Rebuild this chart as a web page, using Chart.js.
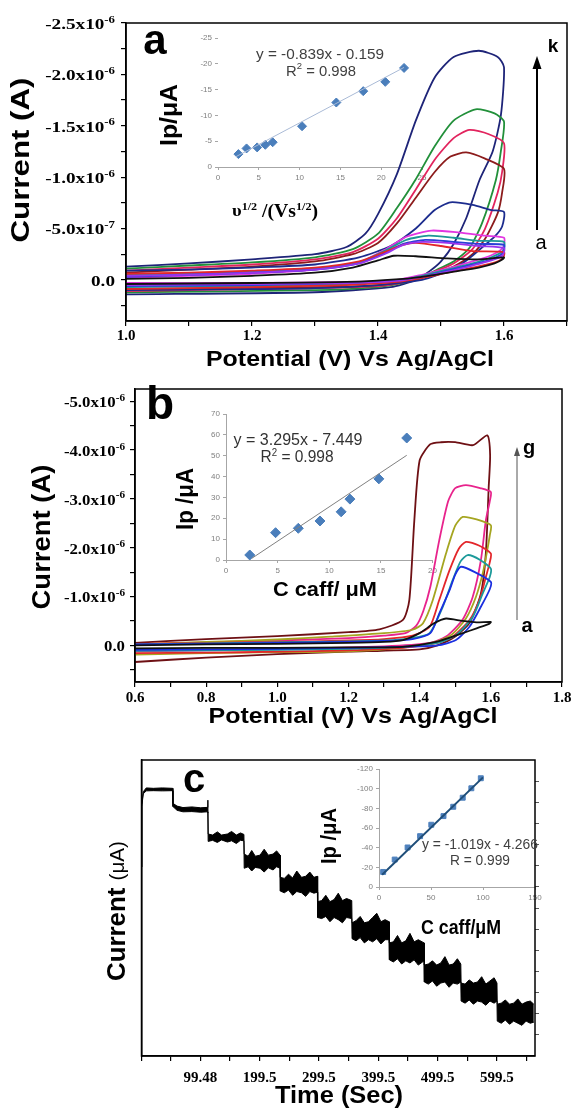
<!DOCTYPE html>
<html>
<head>
<meta charset="utf-8">
<script src="https://cdn.jsdelivr.net/npm/chart.js@4.4.1/dist/chart.umd.min.js"></script>
<style>
  body { margin: 0; background: #fff; width: 573px; height: 1110px; position: relative; overflow: hidden; }
  .box { position: absolute; }
  canvas { display: block; }
</style>
</head>
<body>
<div class="box" style="left:150px;top:20px"><canvas id="insetA" width="290" height="200"></canvas></div>
<div class="box" style="left:0;top:0"><canvas id="mainA" width="573" height="370"></canvas></div>
<div class="box" style="left:170px;top:395px"><canvas id="insetB" width="270" height="200"></canvas></div>
<div class="box" style="left:0;top:370px"><canvas id="mainB" width="573" height="360"></canvas></div>
<div class="box" style="left:330px;top:750px"><canvas id="insetC" width="230" height="170"></canvas></div>
<div class="box" style="left:0;top:730px"><canvas id="mainC" width="573" height="380"></canvas></div>
<script>
// ---------- panel a : CVs at different scan rates (V, current in µA) ----------
const aCurveA = [[1.0,-0.01],[1.1,-0.02],[1.2,-0.04],[1.3,-0.07],[1.36,-0.12],[1.40,-0.19],[1.425,-0.235],[1.46,-0.23],[1.51,-0.21],[1.56,-0.2],[1.60,-0.22],
  [1.598,-0.2],[1.585,-0.16],[1.56,-0.12],[1.52,-0.08],[1.48,-0.04],[1.44,-0.01],[1.35,0.02],[1.2,0.03],[1.0,0.04]];
const aCurveB = [[1.0,-0.04],[1.1,-0.05],[1.2,-0.07],[1.3,-0.1],[1.37,-0.16],[1.41,-0.25],[1.44,-0.34],[1.47,-0.37],[1.51,-0.36],[1.56,-0.33],[1.60,-0.31],
  [1.598,-0.24],[1.58,-0.19],[1.55,-0.14],[1.51,-0.08],[1.47,-0.03],[1.43,0.01],[1.35,0.03],[1.2,0.04],[1.0,0.05]];
const aCurveC = [[1.0,-0.06],[1.1,-0.07],[1.2,-0.09],[1.3,-0.12],[1.37,-0.18],[1.41,-0.27],[1.44,-0.34],[1.46,-0.36],[1.50,-0.33],[1.55,-0.28],[1.60,-0.27],
  [1.598,-0.21],[1.58,-0.16],[1.55,-0.12],[1.51,-0.07],[1.47,-0.02],[1.43,0.02],[1.35,0.05],[1.2,0.07],[1.0,0.09]];
const aCurveD = [[1.0,-0.03],[1.1,-0.05],[1.2,-0.07],[1.3,-0.1],[1.37,-0.16],[1.41,-0.26],[1.44,-0.35],[1.475,-0.39],[1.52,-0.37],[1.56,-0.35],[1.60,-0.34],
  [1.598,-0.26],[1.58,-0.2],[1.55,-0.15],[1.51,-0.09],[1.47,-0.03],[1.43,0.01],[1.35,0.03],[1.2,0.05],[1.0,0.06]];
const aCurveE = [[1.0,-0.05],[1.1,-0.06],[1.2,-0.08],[1.3,-0.11],[1.37,-0.17],[1.41,-0.28],[1.445,-0.39],[1.48,-0.43],[1.52,-0.41],[1.56,-0.38],[1.60,-0.37],
  [1.598,-0.28],[1.58,-0.22],[1.55,-0.16],[1.51,-0.1],[1.47,-0.04],[1.43,0.01],[1.35,0.04],[1.2,0.06],[1.0,0.07]];
const aCurveF = [[1.0,-0.02],[1.1,-0.04],[1.2,-0.06],[1.3,-0.1],[1.37,-0.17],[1.41,-0.29],[1.445,-0.42],[1.485,-0.48],[1.53,-0.46],[1.57,-0.43],[1.60,-0.41],
  [1.598,-0.31],[1.58,-0.24],[1.55,-0.18],[1.51,-0.11],[1.47,-0.05],[1.43,0.0],[1.35,0.02],[1.2,0.03],[1.0,0.03]];
const aCurveG = [[1.0,-0.09],[1.1,-0.1],[1.2,-0.12],[1.3,-0.15],[1.37,-0.22],[1.42,-0.33],[1.46,-0.5],[1.49,-0.68],[1.515,-0.755],[1.55,-0.73],[1.58,-0.68],[1.60,-0.66],
  [1.597,-0.52],[1.585,-0.42],[1.566,-0.32],[1.545,-0.21],[1.524,-0.12],[1.50,-0.06],[1.47,0.0],[1.4,0.05],[1.3,0.08],[1.2,0.09],[1.0,0.1]];
const aCurveH = [[1.0,-0.07],[1.1,-0.1],[1.2,-0.13],[1.3,-0.18],[1.36,-0.25],[1.40,-0.36],[1.43,-0.55],[1.46,-0.8],[1.49,-1.05],[1.515,-1.2],[1.54,-1.24],[1.57,-1.18],[1.60,-1.08],
  [1.597,-0.85],[1.59,-0.65],[1.57,-0.4],[1.55,-0.25],[1.52,-0.13],[1.49,-0.06],[1.46,0.0],[1.4,0.05],[1.3,0.07],[1.0,0.09]];
const aCurveI = [[1.0,-0.09],[1.1,-0.12],[1.2,-0.15],[1.3,-0.2],[1.36,-0.27],[1.40,-0.4],[1.43,-0.6],[1.46,-0.88],[1.49,-1.17],[1.52,-1.38],[1.545,-1.46],[1.575,-1.42],[1.60,-1.33],
  [1.597,-1.05],[1.59,-0.85],[1.57,-0.5],[1.55,-0.3],[1.52,-0.16],[1.49,-0.08],[1.46,0.0],[1.4,0.06],[1.3,0.08],[1.0,0.11]];
const aCurveJ = [[1.0,-0.11],[1.1,-0.14],[1.2,-0.17],[1.3,-0.22],[1.36,-0.3],[1.40,-0.45],[1.43,-0.7],[1.46,-0.98],[1.49,-1.3],[1.52,-1.55],[1.555,-1.66],[1.585,-1.62],[1.60,-1.54],
  [1.595,-1.25],[1.587,-0.97],[1.565,-0.55],[1.545,-0.31],[1.52,-0.18],[1.497,-0.11],[1.47,-0.03],[1.44,0.03],[1.4,0.07],[1.3,0.1],[1.0,0.12]];
const aCurveK = [[1.0,-0.13],[1.1,-0.16],[1.2,-0.2],[1.3,-0.25],[1.35,-0.32],[1.38,-0.45],[1.40,-0.64],[1.43,-1.03],[1.46,-1.55],[1.49,-1.97],[1.52,-2.17],[1.56,-2.23],[1.59,-2.17],[1.60,-2.07],
  [1.595,-1.6],[1.582,-1.25],[1.561,-0.97],[1.54,-0.6],[1.52,-0.35],[1.50,-0.18],[1.483,-0.09],[1.46,0.0],[1.42,0.07],[1.3,0.12],[1.0,0.14]];
const aCurves = [aCurveA, aCurveB, aCurveC, aCurveD, aCurveE, aCurveF, aCurveG, aCurveH, aCurveI, aCurveJ, aCurveK];
const aColors = ['#111111', '#9933ee', '#e3262a', '#2a3fd6', '#1d9696', '#e236e2', '#1c2c8e', '#8c1c1c', '#e2245e', '#22903a', '#1e2478'];

const aXTicks = [1.0, 1.1, 1.2, 1.3, 1.4, 1.5, 1.6, 1.7];
const aXLabelVals = [1.0, 1.2, 1.4, 1.6];
const aXLabels = ['1.0', '1.2', '1.4', '1.6'];
const aYTicks = [-2.5, -2.25, -2.0, -1.75, -1.5, -1.25, -1.0, -0.75, -0.5, -0.25, 0, 0.25];
const aYLabelVals = [-2.5, -2.0, -1.5, -1.0, -0.5, 0];
const aYLabels = ['-2.5x10^-6', '-2.0x10^-6', '-1.5x10^-6', '-1.0x10^-6', '-5.0x10^-7', '0.0'];

// inset a : Ip vs v^1/2
const insetAX = [2.5, 3.5, 4.8, 5.8, 6.7, 10.3, 14.5, 17.8, 20.5, 22.8];
const insetAY = [-2.5, -3.6, -3.8, -4.3, -4.8, -7.9, -12.5, -14.7, -16.5, -19.2];
const insetATrendX = [2.2, 22.8];
const insetATrendY = [-2.0, -19.3];

// ---------- panel b : CVs at different caffeine concentrations ----------
const bCurveA = [[0.6,0.0],[0.8,-0.02],[1.0,-0.03],[1.2,-0.05],[1.3,-0.07],[1.353,-0.11],[1.40,-0.25],[1.44,-0.45],[1.474,-0.55],[1.52,-0.5],[1.56,-0.47],[1.60,-0.48],
  [1.595,-0.44],[1.56,-0.35],[1.521,-0.25],[1.446,-0.07],[1.353,0.03],[1.2,0.04],[1.0,0.05],[0.8,0.05],[0.6,0.06]];
const bCurveB = [[0.6,-0.02],[0.8,-0.03],[1.0,-0.05],[1.2,-0.07],[1.3,-0.09],[1.38,-0.13],[1.43,-0.25],[1.455,-0.65],[1.484,-1.13],[1.50,-1.45],[1.516,-1.61],[1.555,-1.5],[1.60,-1.30],
  [1.597,-1.15],[1.572,-0.79],[1.54,-0.38],[1.502,-0.11],[1.45,0.0],[1.35,0.03],[1.2,0.05],[1.0,0.07],[0.8,0.08],[0.6,0.09]];
const bCurveC = [[0.6,-0.02],[0.8,-0.04],[1.0,-0.06],[1.2,-0.08],[1.3,-0.1],[1.38,-0.15],[1.428,-0.25],[1.465,-0.79],[1.493,-1.34],[1.515,-1.72],[1.535,-1.85],[1.57,-1.75],[1.60,-1.57],
  [1.597,-1.4],[1.577,-1.06],[1.549,-0.58],[1.502,-0.21],[1.45,-0.05],[1.35,0.03],[1.2,0.07],[1.0,0.09],[0.8,0.1],[0.6,0.11]];
const bCurveD = [[0.6,-0.03],[0.8,-0.05],[1.0,-0.07],[1.2,-0.1],[1.3,-0.13],[1.38,-0.2],[1.428,-0.38],[1.455,-0.93],[1.484,-1.54],[1.51,-1.98],[1.53,-2.12],[1.565,-2.05],[1.60,-1.88],
  [1.597,-1.7],[1.586,-1.4],[1.568,-0.93],[1.54,-0.52],[1.493,-0.18],[1.45,-0.05],[1.35,0.05],[1.2,0.1],[1.0,0.13],[0.8,0.15],[0.6,0.16]];
const bCurveE = [[0.6,-0.02],[0.8,-0.07],[1.0,-0.12],[1.15,-0.18],[1.3,-0.25],[1.38,-0.32],[1.409,-0.45],[1.437,-0.93],[1.474,-1.88],[1.50,-2.45],[1.521,-2.63],[1.56,-2.58],[1.60,-2.46],
  [1.597,-2.25],[1.59,-1.95],[1.578,-1.5],[1.558,-0.99],[1.53,-0.55],[1.49,-0.22],[1.44,-0.06],[1.35,0.05],[1.2,0.12],[1.0,0.14],[0.8,0.16],[0.6,0.19]];
const bCurveF = [[0.6,-0.02],[0.8,-0.06],[1.0,-0.1],[1.2,-0.15],[1.3,-0.2],[1.36,-0.25],[1.39,-0.4],[1.41,-0.7],[1.43,-1.2],[1.455,-2.15],[1.48,-2.95],[1.50,-3.22],[1.53,-3.28],[1.57,-3.22],[1.60,-3.14],
  [1.597,-2.95],[1.586,-2.56],[1.572,-1.74],[1.549,-0.99],[1.52,-0.52],[1.474,-0.18],[1.428,-0.05],[1.3,0.02],[1.0,0.08],[0.8,0.1],[0.6,0.12]];
const bCurveG = [[0.6,-0.05],[0.8,-0.13],[1.0,-0.19],[1.2,-0.27],[1.287,-0.33],[1.353,-0.52],[1.371,-0.93],[1.385,-2.56],[1.40,-3.79],[1.43,-4.12],[1.46,-4.16],[1.50,-4.16],[1.55,-4.10],[1.59,-4.30],
  [1.598,-3.9],[1.594,-3.24],[1.586,-1.89],[1.572,-1.06],[1.54,-0.46],[1.50,-0.18],[1.45,0.0],[1.4,0.08],[1.2,0.13],[1.0,0.18],[0.8,0.25],[0.6,0.34]];
const bCurves = [bCurveA, bCurveB, bCurveC, bCurveD, bCurveE, bCurveF, bCurveG];
const bColors = ['#111111', '#1b2fe0', '#1c9a9a', '#e3262a', '#a5a520', '#e8238c', '#6e1014'];

const bXTicks = [0.6, 0.7, 0.8, 0.9, 1.0, 1.1, 1.2, 1.3, 1.4, 1.5, 1.6, 1.7, 1.8];
const bXLabelVals = [0.6, 0.8, 1.0, 1.2, 1.4, 1.6, 1.8];
const bXLabels = ['0.6', '0.8', '1.0', '1.2', '1.4', '1.6', '1.8'];
const bYTicks = [-5.0, -4.5, -4.0, -3.5, -3.0, -2.5, -2.0, -1.5, -1.0, -0.5, 0, 0.5];
const bYLabelVals = [-5, -4, -3, -2, -1, 0];
const bYLabels = ['-5.0x10^-6', '-4.0x10^-6', '-3.0x10^-6', '-2.0x10^-6', '-1.0x10^-6', '0.0'];

// inset b : Ip vs caffeine concentration
const insetBX = [2.3, 4.8, 7.0, 9.1, 11.15, 12.0, 14.8, 17.5];
const insetBY = [2.4, 13.1, 15.2, 18.7, 23.1, 29.2, 38.9, 58.5];
const insetBTrendX = [2.5, 17.5];
const insetBTrendY = [0.8, 50.2];

// ---------- panel c : amperometric steps, noisy band read as upper / lower edge ----------
const cTime = [0, 0.5, 3, 8, 20, 35, 52.7,
  53, 60, 70, 85, 100, 111.5,
  112, 112.5, 120, 128, 135, 145, 152, 160, 167, 172.8,
  173.3, 180, 186, 192, 200, 207, 214, 222, 228, 233.8,
  234.3, 241, 248, 255, 262, 270, 277, 284, 291, 296.8,
  297.3, 304, 311, 318, 325, 332, 339, 346, 354.8,
  355.3, 362, 369, 376, 383, 390, 397, 404, 411, 417.8,
  418.3, 425, 432, 439, 446, 453, 460, 467, 476.8,
  477.3, 484, 491, 498, 505, 512, 519, 526, 533, 538.8,
  539.3, 546, 553, 560, 567, 574, 581, 588, 595, 599.8,
  600.3, 607, 614, 621, 628, 635, 642, 649, 656, 662];
const cUpper = [8.94, 11.9, 12.5, 12.68, 12.66, 12.68, 12.66,
  11.95, 11.82, 11.75, 11.78, 11.74, 11.76,
  12.1, 10.5, 10.45, 10.6, 10.45, 10.5, 10.62, 10.45, 10.55, 10.48,
  9.55, 9.45, 9.72, 9.45, 9.5, 9.78, 9.5, 9.55, 9.7, 9.5,
  8.45, 8.4, 8.6, 8.42, 8.75, 8.45, 8.5, 8.7, 8.45, 8.5,
  7.3, 7.35, 7.6, 7.3, 7.4, 7.7, 7.35, 7.45, 7.35,
  6.3, 6.4, 6.6, 6.3, 6.35, 6.55, 6.75, 6.35, 6.45, 6.35,
  5.35, 5.4, 5.7, 5.35, 5.45, 5.8, 5.4, 5.5, 5.35,
  4.3, 4.35, 4.5, 4.3, 4.4, 4.7, 4.3, 4.35, 4.6, 4.35,
  3.45, 3.4, 3.6, 3.45, 3.5, 3.75, 3.4, 3.55, 3.7, 3.45,
  2.45, 2.5, 2.65, 2.45, 2.5, 2.7, 2.45, 2.55, 2.6, 2.45];
const cLower = [8.94, 11.8, 12.4, 12.54, 12.55, 12.54, 12.55,
  11.8, 11.62, 11.55, 11.56, 11.53, 11.55,
  11.5, 10.15, 10.2, 10.1, 10.22, 10.12, 10.18, 10.05, 10.2, 10.18,
  8.88, 8.95, 8.75, 8.92, 8.88, 8.7, 8.9, 8.8, 8.95, 8.88,
  7.8, 7.72, 7.85, 7.6, 7.78, 7.72, 7.55, 7.78, 7.7, 7.75,
  6.55, 6.5, 6.6, 6.35, 6.55, 6.45, 6.3, 6.55, 6.5,
  5.55, 5.45, 5.6, 5.35, 5.5, 5.4, 5.55, 5.3, 5.5, 5.5,
  4.55, 4.45, 4.6, 4.35, 4.5, 4.4, 4.55, 4.3, 4.5,
  3.5, 3.4, 3.55, 3.3, 3.45, 3.5, 3.25, 3.45, 3.4, 3.5,
  2.6, 2.5, 2.65, 2.45, 2.6, 2.55, 2.4, 2.6, 2.5, 2.6,
  1.65, 1.55, 1.7, 1.5, 1.65, 1.55, 1.45, 1.65, 1.55, 1.6];
const cXTicks = [0, 49.5, 99.48, 149.5, 199.5, 249.5, 299.5, 349.5, 399.5, 449.5, 499.5, 549.5, 599.5, 649.5];
const cXLabelVals = [99.48, 199.5, 299.5, 399.5, 499.5, 599.5];
const cXLabels = ['99.48', '199.5', '299.5', '399.5', '499.5', '599.5'];
const cYRightTicks = [1, 2, 3, 4, 5, 6, 7, 8, 9, 10, 11, 12, 13];

// inset c : Ip vs caffeine concentration
const insetCX = [4.0, 15.1, 27.5, 39.5, 50.3, 62.0, 71.4, 80.5, 88.8, 97.9];
const insetCY = [-15.3, -27.9, -40.2, -51.7, -63.3, -72.1, -81.6, -90.8, -100.4, -110.6];
const insetCTrendX = [3, 100];
const insetCTrendY = [-12.5, -111.5];

// ---------- drawing helpers ----------
const SANS = '"Liberation Sans", Arial, sans-serif';
const SERIF = '"Liberation Serif", "Times New Roman", serif';

function drawRich(ctx, it) {
  ctx.save();
  ctx.translate(it.x, it.y);
  if (it.rot) ctx.rotate(it.rot * Math.PI / 180);
  let w = 0;
  it.parts.forEach(p => { ctx.font = p.f; p.w = ctx.measureText(p.t).width; w += p.w; });
  const sx = it.w ? it.w / w : (it.sx || 1);
  ctx.scale(sx, 1);
  let x = it.align === 'right' ? -w : it.align === 'left' ? 0 : -w / 2;
  ctx.fillStyle = it.color || '#000';
  ctx.textBaseline = 'middle';
  ctx.textAlign = 'left';
  it.parts.forEach(p => { ctx.font = p.f; ctx.fillText(p.t, x, p.dy || 0); x += p.w; });
  ctx.restore();
}

function supParts(label, font, supFont) {
  const [base, exp] = label.split('^');
  const parts = [{ t: base, f: font }];
  if (exp) parts.push({ t: exp, f: supFont, dy: -5 });
  return parts;
}

const framePlugin = {
  id: 'frame',
  afterDatasetsDraw(chart) {
    const { ctx, chartArea: a } = chart;
    ctx.save();
    ctx.strokeStyle = '#000';
    ctx.lineWidth = 1.5;
    ctx.strokeRect(a.left, a.top, a.right - a.left, a.bottom - a.top);
    ctx.restore();
  }
};

const notesPlugin = {
  id: 'notes',
  afterDraw(chart, args, o) {
    const ctx = chart.ctx;
    (o.ticks || []).forEach(s => {
      const scale = chart.scales[s.axis];
      s.values.forEach((v, i) => {
        const p = scale.getPixelForValue(v);
        const parts = supParts(s.labels[i], s.font, s.supFont);
        if (scale.isHorizontal()) {
          drawRich(ctx, { parts, x: p, y: chart.chartArea.bottom + s.offset, sx: s.sx });
        } else {
          drawRich(ctx, { parts, x: chart.chartArea.left - s.offset, y: p + 2, align: 'right', sx: s.sx });
        }
      });
    });
    (o.arrows || []).forEach(ar => {
      ctx.save();
      ctx.strokeStyle = ar.color; ctx.fillStyle = ar.color; ctx.lineWidth = ar.lw;
      ctx.beginPath(); ctx.moveTo(ar.x, ar.y1); ctx.lineTo(ar.x, ar.y2 + ar.head); ctx.stroke();
      ctx.beginPath(); ctx.moveTo(ar.x, ar.y2); ctx.lineTo(ar.x - ar.hw, ar.y2 + ar.head); ctx.lineTo(ar.x + ar.hw, ar.y2 + ar.head); ctx.closePath(); ctx.fill();
      ctx.restore();
    });
    (o.texts || []).forEach(t => drawRich(ctx, t));
  }
};

function fixW(w) { return s => { s.width = w; }; }
function fixH(h) { return s => { s.height = h; }; }
function setTicks(vals) { return s => { s.ticks = vals.map(v => ({ value: v })); }; }

function baseOptions(padding) {
  return {
    responsive: false, animation: false, events: [],
    layout: { padding },
    plugins: { legend: { display: false }, tooltip: { enabled: false } }
  };
}

function cvDatasets(curves, colors, width) {
  return curves.map((c, i) => ({
    data: c.map(p => ({ x: p[0], y: p[1] })),
    borderColor: colors[i], borderWidth: width, pointRadius: 0, tension: 0.22, showLine: true, fill: false
  }));
}

function mainScales(xMin, xMax, xTicks, yMin, yMax, yTicks, yW, xH) {
  const grid = { drawOnChartArea: false, tickLength: 5, tickColor: '#000', lineWidth: 1.2 };
  return {
    x: { type: 'linear', min: xMin, max: xMax, afterBuildTicks: setTicks(xTicks), afterFit: fixH(xH),
         ticks: { display: false }, grid, border: { color: '#000', width: 1.5 } },
    y: { type: 'linear', min: yMin, max: yMax, reverse: true, afterBuildTicks: setTicks(yTicks), afterFit: fixW(yW),
         ticks: { display: false }, grid, border: { color: '#000', width: 1.5 } }
  };
}

function insetScales(xMin, xMax, xStep, yMin, yMax, yStep, reverse, yW, xH, yBorder) {
  const tick = { font: { family: SANS, size: 8 }, color: '#7f7f7f', padding: 3 };
  const grid = { drawOnChartArea: false, tickLength: 3, tickColor: '#a6a6a6' };
  return {
    x: { type: 'linear', min: xMin, max: xMax, ticks: Object.assign({ stepSize: xStep }, tick), grid,
         border: { color: '#a6a6a6' }, afterFit: fixH(xH) },
    y: { type: 'linear', min: yMin, max: yMax, reverse, ticks: Object.assign({ stepSize: yStep }, tick), grid,
         border: { display: yBorder, color: '#a6a6a6' }, afterFit: fixW(yW) }
  };
}

const zip = (xs, ys) => xs.map((x, i) => ({ x, y: ys[i] }));
const sansB = s => 'bold ' + s + 'px ' + SANS;
const sans = s => s + 'px ' + SANS;
const serifB = s => 'bold ' + s + 'px ' + SERIF;

// ---------- panel a ----------
new Chart(document.getElementById('insetA'), {
  type: 'scatter',
  data: { datasets: [
    { data: zip(insetATrendX, insetATrendY), showLine: true, borderColor: '#a9bad6', borderWidth: 1, pointRadius: 0 },
    { data: zip(insetAX, insetAY), pointStyle: 'rectRot', pointRadius: 4.5, backgroundColor: '#4a7ebb', borderColor: '#4a7ebb' }
  ] },
  options: Object.assign(baseOptions({ top: 18, right: 18, left: 0, bottom: 0 }), {
    scales: insetScales(0, 25, 5, -25, 0, 5, true, 68, 53, false)
  })
});

new Chart(document.getElementById('mainA'), {
  type: 'scatter',
  data: { datasets: cvDatasets(aCurves, aColors, 1.8) },
  options: Object.assign(baseOptions({ top: 23, right: 6, left: 0, bottom: 0 }), {
    scales: mainScales(1.0, 1.7, aXTicks, -2.5, 0.4, aYTicks, 126, 49),
    plugins: {
      legend: { display: false }, tooltip: { enabled: false },
      notes: {
        ticks: [
          { axis: 'x', values: aXLabelVals, labels: aXLabels, font: serifB(15), offset: 15 },
          { axis: 'y', values: aYLabelVals, labels: aYLabels, font: serifB(15), supFont: serifB(10), offset: 11, sx: 1.28 }
        ],
        arrows: [{ x: 537, y1: 230, y2: 56, head: 13, hw: 4.5, lw: 2, color: '#000' }],
        texts: [
          { parts: [{ t: 'Current (A)', f: sansB(25) }], x: 22, y: 160, rot: -90, w: 165 },
          { parts: [{ t: 'Potential (V) Vs Ag/AgCl', f: sansB(22) }], x: 350, y: 360, w: 288 },
          { parts: [{ t: 'a', f: sansB(42) }], x: 155, y: 42 },
          { parts: [{ t: 'k', f: sansB(19) }], x: 553, y: 47 },
          { parts: [{ t: 'a', f: sans(20) }], x: 541, y: 243 },
          { parts: [{ t: 'y = -0.839x - 0.159', f: sans(14) }], x: 320, y: 55, w: 128, color: '#404040' },
          { parts: [{ t: 'R', f: sans(14) }, { t: '2', f: sans(9), dy: -5 }, { t: ' = 0.998', f: sans(14) }], x: 321, y: 72, w: 70, color: '#404040' },
          { parts: [{ t: 'Ip/μA', f: sansB(24) }], x: 170, y: 115, rot: -90, w: 62 },
          { parts: [{ t: 'υ', f: serifB(17) }, { t: '1/2', f: serifB(11), dy: -5 }, { t: ' /(Vs', f: serifB(18) }, { t: '1/2', f: serifB(11), dy: -5 }, { t: ')', f: serifB(18) }],
            x: 275, y: 212, w: 86 }
        ]
      }
    }
  }),
  plugins: [framePlugin, notesPlugin]
});

// ---------- panel b ----------
new Chart(document.getElementById('insetB'), {
  type: 'scatter',
  data: { datasets: [
    { data: zip(insetBTrendX, insetBTrendY), showLine: true, borderColor: '#808080', borderWidth: 1, pointRadius: 0 },
    { data: zip(insetBX, insetBY), pointStyle: 'rectRot', pointRadius: 5, backgroundColor: '#4a7ebb', borderColor: '#4a7ebb' }
  ] },
  options: Object.assign(baseOptions({ top: 19, right: 6, left: 0, bottom: 0 }), {
    scales: insetScales(0, 20, 5, 0, 70, 10, false, 56, 35, true)
  })
});

new Chart(document.getElementById('mainB'), {
  type: 'scatter',
  data: { datasets: cvDatasets(bCurves, bColors, 1.8) },
  options: Object.assign(baseOptions({ top: 19, right: 11, left: 0, bottom: 0 }), {
    scales: mainScales(0.6, 1.8, bXTicks, -5.25, 0.75, bYTicks, 135, 48),
    plugins: {
      legend: { display: false }, tooltip: { enabled: false },
      notes: {
        ticks: [
          { axis: 'x', values: bXLabelVals, labels: bXLabels, font: serifB(15), offset: 16 },
          { axis: 'y', values: bYLabelVals, labels: bYLabels, font: serifB(15), supFont: serifB(10), offset: 10, sx: 1.12 }
        ],
        arrows: [{ x: 517, y1: 250, y2: 77, head: 9, hw: 3, lw: 1, color: '#555' }],
        texts: [
          { parts: [{ t: 'Current (A)', f: sansB(25) }], x: 43, y: 167, rot: -90, w: 145 },
          { parts: [{ t: 'Potential (V) Vs Ag/AgCl', f: sansB(22) }], x: 353, y: 347, w: 289 },
          { parts: [{ t: 'b', f: sansB(46) }], x: 160, y: 36 },
          { parts: [{ t: 'g', f: sansB(20) }], x: 529, y: 78 },
          { parts: [{ t: 'a', f: sansB(20) }], x: 527, y: 256 },
          { parts: [{ t: 'y = 3.295x - 7.449', f: sans(16) }], x: 298, y: 71, w: 129, color: '#333' },
          { parts: [{ t: 'R', f: sans(16) }, { t: '2', f: sans(10), dy: -5 }, { t: ' = 0.998', f: sans(16) }], x: 297, y: 88, w: 73, color: '#333' },
          { parts: [{ t: 'Ip /μA', f: sansB(23) }], x: 187, y: 129, rot: -90, w: 62 },
          { parts: [{ t: 'C caff/ μM', f: sansB(20) }], x: 325, y: 220, w: 104 }
        ]
      }
    }
  }),
  plugins: [framePlugin, notesPlugin]
});

// ---------- panel c ----------
new Chart(document.getElementById('insetC'), {
  type: 'scatter',
  data: { datasets: [
    { data: zip(insetCTrendX, insetCTrendY), showLine: true, borderColor: '#1f4e79', borderWidth: 2, pointRadius: 0 },
    { data: zip(insetCX, insetCY), pointStyle: 'rect', pointRadius: 3.5, backgroundColor: '#4f81bd', borderColor: '#4f81bd' }
  ] },
  options: Object.assign(baseOptions({ top: 19, right: 25, left: 0, bottom: 0 }), {
    scales: insetScales(0, 150, 50, -120, 0, 20, true, 49, 33, true)
  })
});

new Chart(document.getElementById('mainC'), {
  type: 'scatter',
  data: { datasets: [
    { data: zip(cTime, cUpper), showLine: true, borderColor: '#000', borderWidth: 1, pointRadius: 0, tension: 0, fill: false },
    { data: zip(cTime, cLower), showLine: true, borderColor: '#000', borderWidth: 1, pointRadius: 0, tension: 0, fill: '-1', backgroundColor: '#000' }
  ] },
  options: Object.assign(baseOptions({ top: 30, right: 0, left: 0, bottom: 0 }), {
    scales: {
      x: { type: 'linear', min: 0, max: 664, afterBuildTicks: setTicks(cXTicks), afterFit: fixH(54),
           ticks: { display: false }, grid: { drawOnChartArea: false, tickLength: 5, tickColor: '#000', lineWidth: 1.2 },
           border: { color: '#000', width: 1.5 } },
      y: { type: 'linear', min: 0, max: 14, afterFit: fixW(141.5), ticks: { display: false },
           grid: { drawOnChartArea: false, drawTicks: false }, border: { color: '#000', width: 1.5 } },
      y2: { type: 'linear', position: 'right', min: 0, max: 14, afterBuildTicks: setTicks(cYRightTicks), afterFit: fixW(38),
            ticks: { display: false }, grid: { drawOnChartArea: false, tickLength: 4, tickColor: '#555' }, border: { display: false } }
    },
    plugins: {
      legend: { display: false }, tooltip: { enabled: false },
      notes: {
        ticks: [
          { axis: 'x', values: cXLabelVals, labels: cXLabels, font: serifB(15), offset: 22 }
        ],
        texts: [
          { parts: [{ t: 'Current ', f: sansB(25) }, { t: '(μA)', f: sans(20) }], x: 118, y: 181, rot: -90, w: 140 },
          { parts: [{ t: 'Time (Sec)', f: sansB(23) }], x: 339, y: 367, w: 128 },
          { parts: [{ t: 'c', f: sansB(40) }], x: 194, y: 51 },
          { parts: [{ t: 'y = -1.019x - 4.266', f: sans(15) }], x: 480, y: 115, w: 116, color: '#404040' },
          { parts: [{ t: 'R = 0.999', f: sans(15) }], x: 480, y: 131, w: 60, color: '#404040' },
          { parts: [{ t: 'Ip /μA', f: sansB(22) }], x: 330, y: 106, rot: -90, w: 56 },
          { parts: [{ t: 'C caff/μM', f: sansB(20) }], x: 461, y: 198, w: 80 }
        ]
      }
    }
  }),
  plugins: [framePlugin, notesPlugin]
});
</script>
</body>
</html>
